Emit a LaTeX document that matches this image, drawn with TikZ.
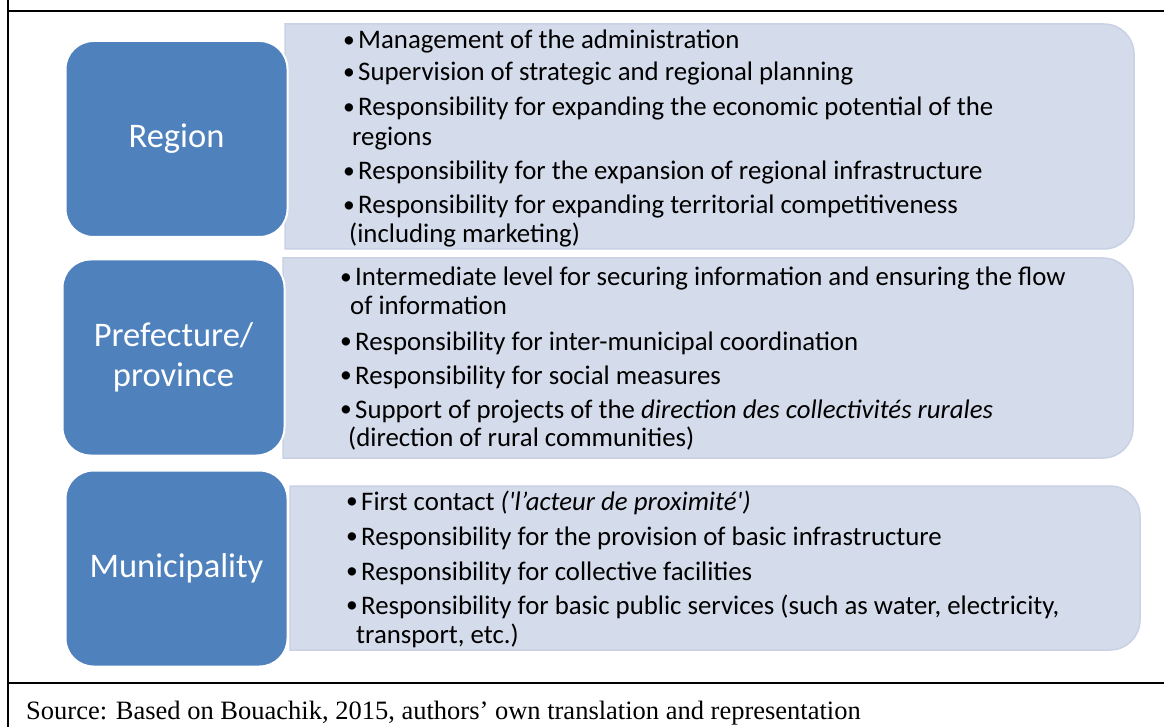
\documentclass[tikz,border=0pt]{standalone}
\usepackage{fontspec}
\setmainfont{Carlito}
\newfontfamily\itemfont{Carlito}
\newfontfamily\srcfont{Liberation Serif}
\definecolor{tierblue}{RGB}{79,129,189}
\definecolor{panelfill}{RGB}{212,219,234}
\definecolor{paneledge}{RGB}{201,209,229}
\newcommand{\bul}{\makebox[15pt][l]{\raisebox{1.3pt}{\fontsize{23.5}{23.5}\selectfont •}}}
\begin{document}
\begin{tikzpicture}[x=1pt,y=-1pt,
  tier/.style={draw=white,line width=2pt,fill=tierblue,rounded corners=28pt,
    minimum width=222pt,minimum height=196pt,inner sep=0pt,text=white,align=center,
    font=\itemfont\fontsize{34.5}{40}\selectfont},
  panel/.style={fill=panelfill,draw=paneledge,line width=1.5pt},
  item/.style={anchor=base west,inner sep=0pt,font=\itemfont\fontsize{26.8}{30}\selectfont},
  frame/.style={line width=2pt,black}]
\useasboundingbox (0,0) rectangle (1164,727);

% table frame
\draw[frame] (8,0) -- (8,727);
\draw[frame] (8,11) -- (1164,11);
\draw[frame] (8,683) -- (1164,683);

% light panels: square on the left, rounded on the right
\path[panel] (285,24) -- (1104,24) arc[start angle=270,end angle=360,radius=30]
  -- (1134,219) arc[start angle=0,end angle=90,radius=30] -- (285,249) -- cycle;
\path[panel] (283,258) -- (1103,258) arc[start angle=270,end angle=360,radius=30]
  -- (1133,428) arc[start angle=0,end angle=90,radius=30] -- (283,458) -- cycle;
\path[panel] (290,486) -- (1110,486) arc[start angle=270,end angle=360,radius=30]
  -- (1140,620) arc[start angle=0,end angle=90,radius=30] -- (290,650) -- cycle;

% tier boxes
\node[tier] (region) at (176.5,139) {Region};
\node[tier] (prefecture) at (173.5,357.5) {Prefecture/\\province};
\node[tier] (municipality) at (176.5,568.5) {Municipality};

% region tasks
\node[item] (r1) at (343,49) {\bul Management of the administration};
\node[item] (r2) at (343,81) {\bul Supervision of strategic and regional planning};
\node[item] (r3) at (343,116) {\bul Responsibility for expanding the economic potential of the};
\node[item] (r3b) at (352,146) {regions};
\node[item] (r4) at (343,180) {\bul Responsibility for the expansion of regional infrastructure};
\node[item] (r5) at (343,214) {\bul Responsibility for expanding territorial competitiveness};
\node[item] (r5b) at (349,243) {(including marketing)};

% prefecture / province tasks
\node[item] (p1) at (340,286) {\bul Intermediate level for securing information and ensuring the flow};
\node[item] (p1b) at (350,314) {of information};
\node[item] (p2) at (340,350) {\bul Responsibility for inter-municipal coordination};
\node[item] (p3) at (340,384) {\bul Responsibility for social measures};
\node[item] (p4) at (340,418) {\bul Support of projects of the \textit{direction des collectivités rurales}};
\node[item] (p4b) at (348,446) {(direction of rural communities)};

% municipality tasks
\node[item] (m1) at (346,510) {\bul First contact \textit{('l’acteur de proximité')}};
\node[item] (m2) at (346,545) {\bul Responsibility for the provision of basic infrastructure};
\node[item] (m3) at (346,580) {\bul Responsibility for collective facilities};
\node[item] (m4) at (346,614) {\bul Responsibility for basic public services (such as water, electricity,};
\node[item] (m4b) at (356,643) {transport, etc.)};

% source line
\node[anchor=base west,inner sep=0pt,font=\srcfont\fontsize{26.5}{30}\selectfont] (source)
  at (26,719) {Source: Based on Bouachik, 2015, authors’ own translation and representation};
\end{tikzpicture}
\end{document}
